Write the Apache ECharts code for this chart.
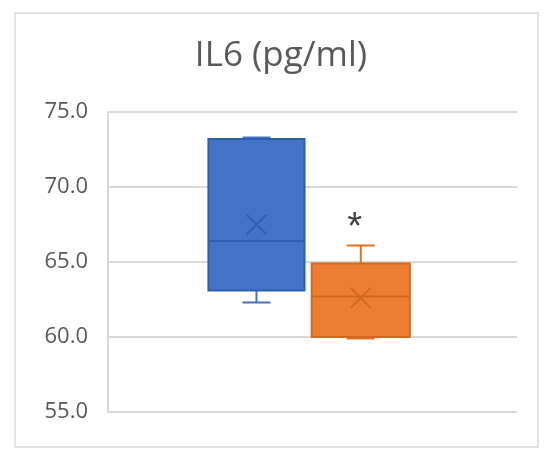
<!DOCTYPE html>
<html><head><meta charset="utf-8">
<script src="https://cdn.jsdelivr.net/npm/echarts@6/dist/echarts.min.js"></script>
<style>html,body{margin:0;padding:0;background:#fff}#c{width:550px;height:463px}</style>
</head><body><div id="c"></div>
<script>
// Data
const categories = ['IL6 (pg/ml)'];
const seriesNames = ['Group 1', 'Group 2'];
// [min, Q1, median, Q3, max]
const group1Box = [62.3, 63.1, 66.4, 73.2, 73.3];
const group2Box = [59.9, 60.0, 62.7, 64.9, 66.1];
const group1Mean = 67.5;
const group2Mean = 62.6;
const group1Mark = '';
const group2Mark = '*';
const yTickLabels = ['55.0', '60.0', '65.0', '70.0', '75.0'];

const chart = echarts.init(document.getElementById('c'), null, {renderer: 'canvas'});

function boxRender(st) {
  return function (params, api) {
    const cat = api.value(0);
    const band = api.size([1, 0])[0];
    const base = api.coord([cat, api.value(1)]);
    const cx = base[0] + band * st.offset;
    const w = band * st.width;
    const y = i => api.coord([cat, api.value(i)])[1];
    const yMin = y(1), yQ1 = y(2), yMed = y(3), yQ3 = y(4), yMax = y(5), yMean = y(6);
    const cap = 28, xs = 10;
    const children = [
      {type: 'line', shape: {x1: cx, y1: yQ3, x2: cx, y2: yMax}, style: {stroke: st.whisker, lineWidth: 2}},
      {type: 'line', shape: {x1: cx, y1: yQ1, x2: cx, y2: yMin}, style: {stroke: st.whisker, lineWidth: 2}},
      {type: 'line', shape: {x1: cx - cap / 2, y1: yMax, x2: cx + cap / 2, y2: yMax}, style: {stroke: st.whisker, lineWidth: 2}},
      {type: 'line', shape: {x1: cx - cap / 2, y1: yMin, x2: cx + cap / 2, y2: yMin}, style: {stroke: st.whisker, lineWidth: 2}},
      {type: 'rect', shape: {x: cx - w / 2, y: yQ3, width: w, height: yQ1 - yQ3}, style: {fill: st.fill, stroke: st.edge, lineWidth: 2}},
      {type: 'line', shape: {x1: cx - w / 2, y1: yMed, x2: cx + w / 2, y2: yMed}, style: {stroke: st.edge, lineWidth: 2}},
      {type: 'line', shape: {x1: cx - xs, y1: yMean - xs, x2: cx + xs, y2: yMean + xs}, style: {stroke: st.edge, lineWidth: 1.8}},
      {type: 'line', shape: {x1: cx - xs, y1: yMean + xs, x2: cx + xs, y2: yMean - xs}, style: {stroke: st.edge, lineWidth: 1.8}}
    ];
    if (st.mark) {
      children.push({type: 'text', x: cx - 6, y: yMax - 17, style: {text: st.mark, fill: '#404040', font: '38px "Liberation Sans"', align: 'center', verticalAlign: 'middle'}});
    }
    return {type: 'group', children: children};
  };
}

const option = {
  animation: false,
  backgroundColor: '#fff',
  title: {
    text: categories[0], left: 276, top: 34, textAlign: 'center',
    textStyle: {fontFamily: 'Open Sans', fontSize: 35, fontWeight: 'normal', color: '#595959'}
  },
  graphic: [{type: 'rect', shape: {x: 15, y: 13, width: 523, height: 434}, style: {fill: 'none', stroke: '#D9D9D9', lineWidth: 1.5}, silent: true}],
  grid: {left: 108, right: 33, top: 112, bottom: 51},
  xAxis: {type: 'category', data: categories, axisLine: {show: false}, axisTick: {show: false}, axisLabel: {show: false}, splitLine: {show: false}},
  yAxis: {
    type: 'value', min: 55, max: 75, interval: 5,
    axisLine: {show: true, lineStyle: {color: '#D9D9D9', width: 2}},
    axisTick: {show: false},
    splitLine: {show: true, lineStyle: {color: '#D9D9D9', width: 2}},
    axisLabel: {margin: 20, fontFamily: 'Open Sans', fontSize: 22, color: '#595959', padding: [6, 0, 0, 0], formatter: (v) => yTickLabels[Math.round((v - 55) / 5)]}
  },
  series: [
    {
      name: seriesNames[0], type: 'custom', z: 3,
      renderItem: boxRender({offset: -0.137, width: 0.235, fill: '#4472C4', edge: '#2F5EAE', whisker: '#4472C4', mark: group1Mark}),
      encode: {x: 0, y: [1, 2, 3, 4, 5, 6]},
      data: [[0].concat(group1Box, [group1Mean])]
    },
    {
      name: seriesNames[1], type: 'custom', z: 3,
      renderItem: boxRender({offset: 0.118, width: 0.24, fill: '#ED7D31', edge: '#D2691E', whisker: '#E07020', mark: group2Mark}),
      encode: {x: 0, y: [1, 2, 3, 4, 5, 6]},
      data: [[0].concat(group2Box, [group2Mean])]
    }
  ]
};
chart.setOption(option);
</script></body></html>
